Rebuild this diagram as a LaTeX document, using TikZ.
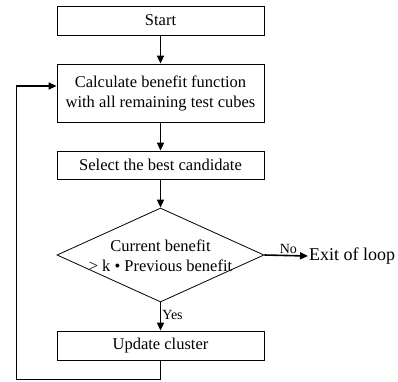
\documentclass[tikz,border=0pt]{standalone}
\usepackage{fontspec}
\setmainfont{Liberation Serif}
\usetikzlibrary{arrows.meta,shapes.geometric}
\begin{document}
\begin{tikzpicture}[x=1pt,y=-1pt,
  box/.style={draw,line width=0.8pt,minimum width=207pt,inner sep=0pt,align=center,font=\fontsize{16.5}{20}\selectfont},
  arr/.style={line width=1.6pt,-{Triangle[length=8pt,width=7pt]}},
  lbl/.style={font=\fontsize{14}{16}\selectfont,inner sep=1pt}]
\useasboundingbox (0,0) rectangle (398,381);
\node[box,minimum height=29pt] (start) at (160.5,20.5) {Start};
\node[box,minimum height=58pt] (calc) at (160.5,93) {Calculate benefit function\\with all remaining test cubes};
\node[box,minimum height=28pt] (sel) at (160.5,165) {Select the best candidate};
\node[draw,line width=0.8pt,shape=diamond,inner sep=0pt,minimum width=207pt,minimum height=94pt,shape aspect=2.2] (dia) at (160.5,255) {};
\node[align=center,font=\fontsize{16.5}{20}\selectfont] (diat) at (160.5,256) {Current benefit\\ > k • Previous benefit};
\node[box,minimum height=29pt] (upd) at (160.5,345.5) {Update cluster};
\node[anchor=west,font=\fontsize{18}{20}\selectfont,inner sep=1pt] (exit) at (308,256) {Exit of loop};
\coordinate (c1) at (160.5,379);
\coordinate (c2) at (16,379);
\coordinate (c3) at (16,86);
\draw[arr] (start) -- (calc);
\draw[arr] (calc) -- (sel);
\draw[arr] (sel) -- (dia.north);
\draw[arr] (dia.south) -- node[lbl,anchor=west,pos=0.45]{Yes} (upd);
\draw[arr] (dia.east) -- node[lbl,anchor=south,pos=0.55]{No} (exit.west);
\draw[line width=0.8pt] (upd.south) -- (c1) -- (c2) -- (c3);
\draw[arr] (c3) -- (calc.west |- c3);
\end{tikzpicture}
\end{document}
